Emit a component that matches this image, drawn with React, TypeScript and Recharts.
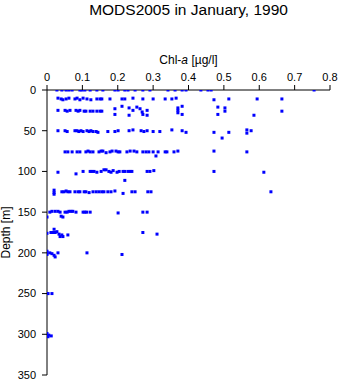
import React from "react";
import { ScatterChart, Scatter, XAxis, YAxis, Label } from "recharts";

// [chl-a (µg/l), depth (m)]
const row0: [number, number][] = [
  [0.028, 0], [0.042, 0], [0.054, 0], [0.062, 0], [0.071, 0], [0.093, 0], [0.099, 0], [0.107, 0],
  [0.122, 0], [0.141, 0], [0.158, 0], [0.192, 0], [0.201, 0], [0.22, 0], [0.229, 0], [0.249, 0],
  [0.271, 0], [0.291, 0], [0.342, 0], [0.362, 0], [0.382, 0], [0.393, 0], [0.435, 0], [0.455, 0],
  [0.464, 0], [0.755, 0],
];
const row10: [number, number][] = [
  [0.031, 10], [0.04, 11], [0.045, 12], [0.054, 11], [0.062, 10], [0.079, 11], [0.085, 10], [0.093, 12],
  [0.102, 10], [0.113, 11], [0.124, 12], [0.141, 11], [0.15, 11], [0.155, 11], [0.178, 11], [0.212, 11],
  [0.22, 11], [0.243, 10], [0.271, 11], [0.3, 11], [0.334, 11], [0.353, 11], [0.365, 10], [0.472, 12],
  [0.514, 11], [0.594, 11], [0.664, 11],
];
const row25: [number, number][] = [
  [0.031, 25], [0.051, 25], [0.057, 26], [0.065, 25], [0.082, 25], [0.088, 26], [0.093, 25], [0.105, 26],
  [0.11, 26], [0.122, 26], [0.13, 26], [0.141, 26], [0.15, 26], [0.155, 26], [0.192, 23], [0.192, 30],
  [0.212, 20], [0.232, 22], [0.232, 31], [0.243, 25], [0.254, 21], [0.263, 23], [0.269, 27], [0.271, 30],
  [0.283, 25], [0.283, 31], [0.37, 22], [0.37, 25], [0.37, 28], [0.382, 20], [0.382, 30], [0.483, 21],
  [0.503, 22], [0.503, 26], [0.483, 30], [0.585, 31], [0.664, 26],
];
const row50: [number, number][] = [
  [0.031, 50], [0.051, 50], [0.057, 51], [0.079, 50], [0.085, 50], [0.09, 51], [0.096, 50], [0.102, 51],
  [0.113, 50], [0.119, 51], [0.124, 50], [0.13, 51], [0.139, 51], [0.144, 52], [0.172, 51], [0.192, 51],
  [0.201, 50], [0.232, 50], [0.243, 49], [0.266, 50], [0.274, 51], [0.283, 50], [0.3, 51], [0.319, 51],
  [0.353, 49], [0.382, 50], [0.393, 52], [0.472, 52], [0.495, 59], [0.514, 52], [0.565, 49], [0.565, 53],
  [0.577, 50],
];
const row75: [number, number][] = [
  [0.051, 76], [0.059, 76], [0.071, 76], [0.085, 76], [0.093, 76], [0.11, 76], [0.116, 75], [0.122, 76],
  [0.13, 76], [0.147, 76], [0.153, 75], [0.158, 75], [0.167, 77], [0.178, 76], [0.184, 75], [0.195, 75],
  [0.201, 76], [0.206, 76], [0.226, 76], [0.235, 75], [0.246, 75], [0.254, 76], [0.271, 76], [0.28, 76],
  [0.288, 76], [0.3, 76], [0.308, 81], [0.314, 76], [0.334, 76], [0.339, 76], [0.359, 76], [0.37, 75],
  [0.472, 75], [0.565, 76],
];
const row100: [number, number][] = [
  [0.031, 101], [0.082, 103], [0.102, 100], [0.122, 100], [0.127, 100], [0.133, 100], [0.141, 101],
  [0.153, 100], [0.161, 98], [0.167, 98], [0.175, 100], [0.181, 101], [0.187, 99], [0.198, 101],
  [0.204, 100], [0.215, 100], [0.22, 100], [0.229, 100], [0.235, 100], [0.24, 100], [0.22, 111],
  [0.283, 100], [0.291, 100], [0.302, 99], [0.472, 100], [0.613, 101],
];
const row125: [number, number][] = [
  [0.02, 123], [0.02, 126], [0.02, 128], [0.042, 125], [0.048, 125], [0.054, 124], [0.059, 125],
  [0.065, 125], [0.079, 125], [0.088, 125], [0.093, 125], [0.105, 125], [0.11, 125], [0.119, 126],
  [0.13, 125], [0.139, 125], [0.147, 125], [0.155, 125], [0.161, 125], [0.172, 125], [0.181, 125],
  [0.192, 124], [0.215, 127], [0.24, 125], [0.249, 125], [0.285, 125], [0.294, 125], [0.633, 125],
];
const row150: [number, number][] = [
  [0.0, 156], [0.008, 150], [0.014, 149], [0.023, 149], [0.031, 149], [0.037, 150], [0.04, 155],
  [0.045, 156], [0.051, 150], [0.057, 150], [0.062, 149], [0.068, 149], [0.073, 149], [0.082, 150],
  [0.102, 150], [0.107, 150], [0.112, 150], [0.122, 150], [0.201, 151], [0.271, 150], [0.283, 150],
];
const row175: [number, number][] = [
  [0.0, 176], [0.011, 175], [0.017, 175], [0.023, 175], [0.02, 171], [0.028, 174], [0.034, 177],
  [0.037, 180], [0.042, 178], [0.045, 180], [0.059, 178], [0.271, 175], [0.311, 177],
];
const row200: [number, number][] = [
  [0.0, 198], [0.0, 200], [0.0, 202], [0.008, 200], [0.014, 201], [0.02, 203], [0.023, 205],
  [0.031, 200], [0.113, 200], [0.212, 202],
];
const row250: [number, number][] = [[0.0, 250], [0.003, 250], [0.014, 250]];
const row300: [number, number][] = [[0.0, 299], [0.0, 302], [0.005, 301], [0.012, 302], [0.003, 303]];

const xTicks = [0, 0.1, 0.2, 0.3, 0.4, 0.5, 0.6, 0.7, 0.8];
const yTicks = [0, 50, 100, 150, 200, 250, 300, 350];

const TITLE = "MODS2005 in January, 1990";

const data = [
  ...row0, ...row10, ...row25, ...row50, ...row75, ...row100,
  ...row125, ...row150, ...row175, ...row200, ...row250, ...row300,
].map(([chl, depth]) => ({ chl, depth }));

const FONT = "'Liberation Sans', Arial, Helvetica, sans-serif";
const BLUE = "#0000ff";

const Square = (props: any) => {
  const { cx, cy } = props;
  if (cx == null || cy == null) return null;
  return <rect x={cx - 1.5} y={cy - 1.5} width={3} height={3} fill={BLUE} />;
};

const renderTitle = () => (
  <text x={188.5} y={15} textAnchor="middle" fontSize={15.5} fontFamily={FONT} fill="#000">
    {TITLE}
  </text>
);

const renderChl = () => (
  <text x={188.5} y={64} textAnchor="middle" fontSize={12} fontFamily={FONT} fill="#000">
    <tspan>Chl-</tspan>
    <tspan fontStyle="italic">a</tspan>
    <tspan> [µg/l]</tspan>
  </text>
);

const renderDepth = () => (
  <text
    transform="rotate(-90)"
    x={-232.5}
    y={10}
    textAnchor="middle"
    fontSize={12}
    fontFamily={FONT}
    fill="#000"
  >
    Depth [m]
  </text>
);

export default function App() {
  return (
    <div style={{ position: "absolute", left: 0, top: 0, width: 343, height: 384, background: "#fff" }}>
      <ScatterChart width={343} height={384} margin={{ top: 60, right: 13, bottom: 9, left: 0 }}>
        <XAxis
          type="number"
          dataKey="chl"
          orientation="top"
          domain={[0, 0.8]}
          ticks={xTicks}
          height={30}
          tickSize={5}
          tickMargin={4}
          stroke="#000"
          tick={{ fill: "#000", fontSize: 11, fontFamily: FONT }}
          allowDataOverflow
        >
          <Label content={renderTitle} />
          <Label content={renderChl} />
        </XAxis>
        <YAxis
          type="number"
          dataKey="depth"
          reversed
          domain={[0, 350]}
          ticks={yTicks}
          width={47}
          tickSize={5}
          tickMargin={6}
          stroke="#000"
          tick={{ fill: "#000", fontSize: 11, fontFamily: FONT }}
          allowDataOverflow
        >
          <Label content={renderDepth} />
        </YAxis>
        <Scatter data={data} fill={BLUE} shape={Square} isAnimationActive={false} />
      </ScatterChart>
    </div>
  );
}
